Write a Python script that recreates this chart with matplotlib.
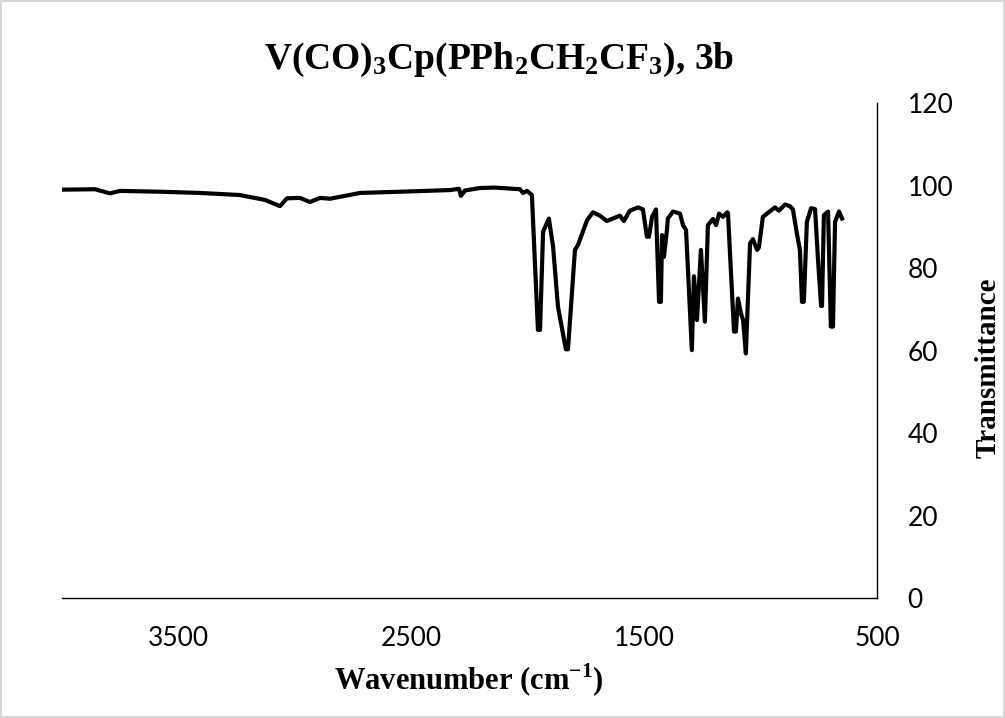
import matplotlib
matplotlib.use("Agg")
import matplotlib.pyplot as plt

plt.rcParams['mathtext.fontset'] = 'custom'
plt.rcParams['mathtext.rm'] = 'Liberation Serif'
plt.rcParams['mathtext.bf'] = 'Liberation Serif:bold'

wavenumber = [4000, 3858, 3794, 3751, 3579, 3407, 3236, 3128, 3064, 3034, 2978, 2935, 2892, 2849,
              2720, 2548, 2334, 2295, 2287, 2269, 2205, 2140, 2033, 2020, 2003, 1982, 1956, 1947,
              1934, 1909, 1891, 1870, 1836, 1827, 1797, 1784, 1745, 1720, 1690, 1660, 1604, 1587,
              1561, 1526, 1505, 1488, 1479, 1466, 1449, 1436, 1428, 1423, 1415, 1402, 1398, 1376,
              1346, 1333, 1320, 1295, 1286, 1273, 1256, 1239, 1226, 1204, 1191, 1178, 1161, 1144,
              1140, 1114, 1106, 1097, 1084, 1075, 1063, 1045, 1033, 1015, 1007, 990, 972, 938, 921,
              895, 874, 861, 844, 831, 822, 814, 801, 783, 766, 753, 740, 736, 728, 710, 706, 698,
              689, 680, 663, 650]
transmittance = [99.0, 99.1, 98.1, 98.7, 98.5, 98.2, 97.7, 96.5, 95.0, 96.9, 97.0, 96.0, 97.0, 96.8,
                 98.2, 98.5, 98.9, 99.2, 97.5, 98.8, 99.4, 99.5, 99.1, 98.2, 98.7, 97.7, 65.0, 65.0,
                 88.8, 92.0, 85.2, 70.6, 60.3, 60.3, 84.4, 85.6, 91.6, 93.5, 92.7, 91.4, 92.7, 91.4,
                 93.9, 94.7, 94.2, 87.6, 87.6, 92.4, 94.2, 71.8, 71.8, 88.0, 82.7, 89.2, 92.0, 93.7,
                 93.2, 90.4, 89.2, 60.1, 78.0, 67.4, 84.4, 67.0, 90.4, 91.9, 90.4, 93.2, 92.4, 93.5,
                 93.4, 64.6, 64.6, 72.6, 69.0, 67.4, 59.3, 86.0, 87.0, 84.4, 85.0, 92.4, 93.2, 94.7,
                 93.9, 95.4, 95.0, 94.2, 88.4, 84.4, 71.8, 71.8, 91.2, 94.5, 94.3, 81.9, 70.8, 70.8,
                 92.8, 93.7, 84.4, 65.8, 65.8, 91.2, 93.7, 92.0]

x_ticks = [3500, 2500, 1500, 500]
y_ticks = [0, 20, 40, 60, 80, 100, 120]

fig = plt.figure(figsize=(10.05, 7.18), dpi=100)
fig.patch.set_edgecolor('#d9d9d9')
fig.patch.set_linewidth(1.5)
ax = fig.add_axes([0.0617, 0.1671, 0.8109, 0.6894])

ax.plot(wavenumber, transmittance, color='black', linewidth=3.0, solid_joinstyle='round')
ax.set_xlim(4000, 500)
ax.set_ylim(0, 120)
ax.set_xticks(x_ticks)
ax.set_yticks(y_ticks)
ax.yaxis.tick_right()
for s in ['left', 'top']:
    ax.spines[s].set_visible(False)
ax.spines['right'].set_linewidth(1.0)
ax.spines['bottom'].set_linewidth(1.0)
ax.tick_params(axis='both', length=0, labelsize=19, colors='black')
ax.tick_params(axis='x', pad=20)
ax.tick_params(axis='y', pad=22)
for lab in ax.get_xticklabels() + ax.get_yticklabels():
    lab.set_fontfamily('Lato')

fig.text(0.497, 0.916, r'$\mathbf{V(CO)_3Cp(PPh_2CH_2CF_3)}$, 3b', ha='center', va='center',
         fontsize=27, fontfamily='Liberation Serif', fontweight='bold')
fig.text(0.466, 0.053, r'Wavenumber (cm$^{\mathbf{-1}}$)', ha='center', va='center',
         fontfamily='Liberation Serif', fontweight='bold', fontsize=22)
fig.text(0.983, 0.488, 'Transmittance', ha='center', va='center', rotation=90,
         fontfamily='Liberation Serif', fontweight='bold', fontsize=21)

fig.savefig('out.png', dpi=100)
